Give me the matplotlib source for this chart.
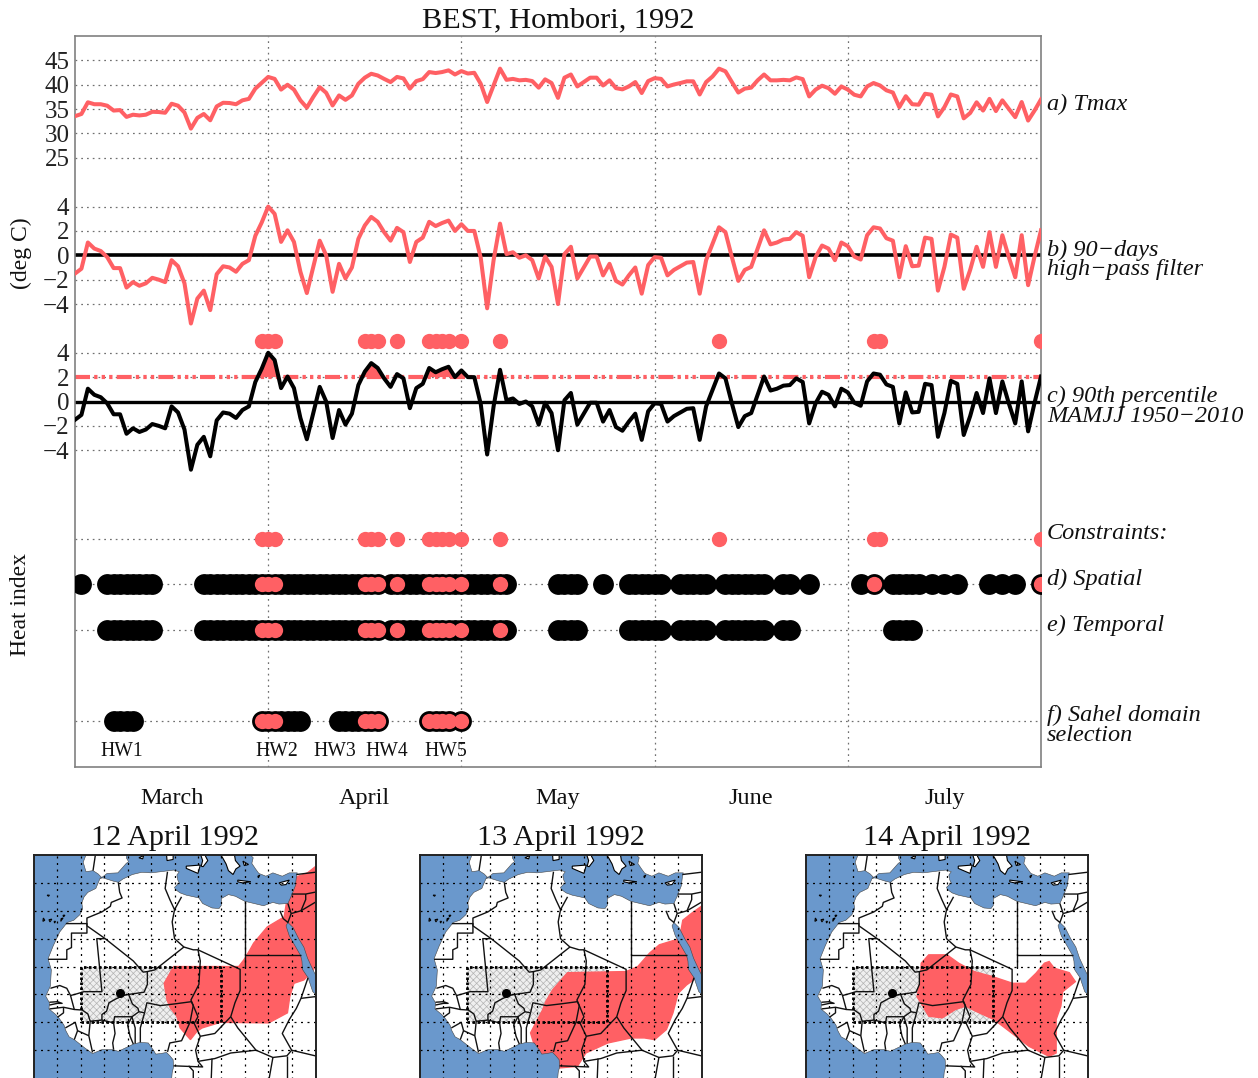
"""Heat wave detection panels and maps for Hombori, 1992."""

import matplotlib

matplotlib.use("Agg")
import matplotlib.pyplot as plt
import numpy as np
from matplotlib.collections import LineCollection
from matplotlib.patches import Polygon, Rectangle

plt.rcParams["font.family"] = ["Liberation Serif", "DejaVu Serif"]
plt.rcParams["hatch.linewidth"] = 0.5

RED = "#ff6064"
SEA = "#6a98cc"

tmax = [
    33.55, 34.0, 36.4, 36.0, 36.0, 35.7, 34.7, 34.8, 33.4, 33.85,
    33.7, 33.85, 34.45, 34.4, 34.25, 36.1, 35.7, 34.3, 31.0, 33.2,
    34.0, 32.7, 35.55, 36.3, 36.25, 36.0, 36.8, 37.1, 39.2, 40.4,
    41.6, 41.2, 39.0, 40.0, 39.0, 36.8, 35.3, 37.5, 39.5, 38.35,
    35.75, 37.8, 36.9, 37.8, 40.2, 41.45, 42.25, 41.9, 41.2, 40.55,
    41.6, 41.3, 39.2, 40.75, 41.15, 42.6, 42.4, 42.6, 42.95, 42.1,
    42.8, 42.3, 42.45, 40.2, 36.45, 39.85, 43.3, 41.0, 41.2, 40.9,
    41.0, 40.75, 39.4, 41.1, 40.35, 37.3, 41.45, 42.1, 39.65, 40.55,
    41.45, 41.45, 39.85, 40.9, 39.3, 39.05, 39.65, 40.55, 38.3, 40.75,
    41.35, 41.2, 39.65, 40.05, 40.35, 40.7, 40.7, 38.0, 40.55, 41.7,
    43.3, 42.75, 40.55, 38.4, 39.2, 39.4, 40.9, 42.1, 40.9, 40.9,
    41.0, 40.9, 41.5, 41.15, 37.6, 39.0, 39.8, 39.3, 38.15, 39.65,
    39.0, 37.95, 37.6, 39.65, 40.35, 39.85, 38.85, 38.4, 35.4, 37.65,
    36.0, 35.9, 38.15, 37.95, 33.5, 35.4, 38.0, 37.6, 33.1, 34.2,
    36.4, 34.7, 37.1, 34.6, 36.8, 35.05, 33.35, 36.45, 32.65, 34.7, 37.0,
]
anomaly = [
    -1.5, -1.1, 1.05, 0.55, 0.35, -0.15, -1.05, -1.05, -2.65, -2.2,
    -2.5, -2.3, -1.85, -2.0, -2.2, -0.4, -0.9, -2.3, -5.6, -3.55,
    -2.9, -4.5, -1.55, -0.9, -1.0, -1.35, -0.7, -0.4, 1.6, 2.7,
    4.0, 3.4, 1.1, 2.05, 1.1, -1.35, -3.1, -0.95, 1.2, 0.0,
    -3.0, -0.7, -1.9, -1.0, 1.35, 2.45, 3.15, 2.75, 1.9, 1.2,
    2.25, 1.9, -0.55, 1.1, 1.45, 2.75, 2.4, 2.65, 2.85, 2.0,
    2.55, 2.0, 2.0, -0.2, -4.35, -0.4, 2.6, 0.1, 0.25, -0.2,
    0.0, -0.4, -1.9, -0.1, -0.95, -4.0, 0.1, 0.7, -1.9, -1.0,
    -0.1, -0.1, -1.65, -0.7, -2.1, -2.4, -1.65, -1.0, -3.15, -0.8,
    -0.15, -0.2, -1.65, -1.2, -0.9, -0.6, -0.55, -3.15, -0.4, 0.95,
    2.3, 1.9, -0.15, -2.1, -1.2, -0.95, 0.55, 2.05, 0.9, 1.05,
    1.3, 1.35, 1.9, 1.6, -1.8, -0.15, 0.8, 0.55, -0.4, 1.05,
    0.75, -0.1, -0.35, 1.65, 2.3, 2.2, 1.4, 1.2, -1.8, 0.75,
    -0.9, -0.85, 1.45, 1.35, -2.9, -0.95, 1.7, 1.45, -2.75, -1.2,
    0.7, -0.95, 1.9, -0.95, 1.65, -0.15, -1.8, 1.65, -2.45, -0.1, 2.05,
]
threshold = 2.0

hot_days = [29, 30, 31, 45, 46, 47, 50, 55, 56, 57, 58, 60, 66, 100, 124, 125, 150]
spatial_days = [
    1, 5, 6, 7, 8, 9, 10, 11, 12,
    20, 21, 22, 23, 24, 25, 26, 27, 28, 29, 30, 31, 32, 33, 34, 35, 36, 37, 38, 39,
    40, 41, 42, 43, 44, 45, 46, 47, 49, 50, 51, 52, 53, 54, 55, 56, 57, 58, 59, 60,
    61, 62, 63, 64, 65, 66, 67,
    75, 76, 77, 78, 82, 86, 87, 88, 89, 90, 91,
    94, 95, 96, 97, 98, 101, 102, 103, 104, 105, 106, 107, 110, 111, 114,
    122, 124, 127, 128, 129, 130, 131, 133, 135, 137, 142, 144, 146, 150,
]
spatial_hot = [29, 30, 31, 45, 46, 47, 50, 55, 56, 57, 58, 60, 66, 124, 150]
temporal_days = [
    5, 6, 7, 8, 9, 10, 11, 12,
    20, 21, 22, 23, 24, 25, 26, 27, 28, 29, 30, 31, 32, 33, 34, 35, 36, 37, 38, 39,
    40, 41, 42, 43, 44, 45, 46, 47, 49, 50, 51, 52, 53, 54, 55, 56, 57, 58, 59, 60,
    61, 62, 63, 64, 65, 66, 67,
    75, 76, 77, 78, 86, 87, 88, 89, 90, 91,
    94, 95, 96, 97, 98, 101, 102, 103, 104, 105, 106, 107, 110, 111,
    127, 128, 129, 130,
]
temporal_hot = [29, 30, 31, 45, 46, 47, 50, 55, 56, 57, 58, 60, 66]
sahel_days = [6, 7, 8, 9, 29, 30, 31, 32, 33, 34, 35, 41, 42, 43, 44, 45, 46, 47, 55, 56, 57, 58, 60]
sahel_hot = [29, 30, 31, 45, 46, 47, 55, 56, 57, 58, 60]

hw_names = ["HW1", "HW2", "HW3", "HW4", "HW5"]
hw_days = [7.3, 31.4, 40.4, 48.4, 57.5]

month_names = ["March", "April", "May", "June", "July"]
month_edges = [30, 60, 90, 120]
month_middles = [15, 45, 75, 105, 135]

tmax_ticks = [25, 30, 35, 40, 45]
anomaly_ticks = [-4, -2, 0, 2, 4]

map_titles = ["12 April 1992", "13 April 1992", "14 April 1992"]
hombori = (-1.6, 15.3)
sahel_box = (-10, 10, 30, 10)

red_lon_12 = [40.5, 38.4, 35.1, 34.1, 33.4, 29.8, 26.9, 25.9, 24.8, 23.7, 9.8, 7.8, 8.4, 9.1, 10.5, 11.2,
              13.4, 14.8, 15.9, 19.8, 30.1, 34.1, 34.6, 35.5, 37.6, 39.4, 40.5]
red_lat_12 = [38.2, 36.8, 35.8, 32.5, 28.9, 27.1, 24.2, 22.7, 21.2, 20.0, 20.0, 17.0, 14.0, 12.6, 11.1, 9.0,
              6.9, 8.4, 9.0, 10.0, 9.9, 11.7, 14.6, 17.0, 17.6, 19.1, 20.6]
red_lon_13 = [40.4, 37.9, 36.1, 35.4, 31.1, 29.0, 26.5, 24.0, 11.5, 8.3, 6.9, 6.1, 4.7, 3.6, 4.7, 9.4, 13.6,
              15.4, 20.1, 25.1, 27.9, 30.1, 32.6, 34.0, 35.1, 36.9, 39.4, 40.4]
red_lat_13 = [31.0, 29.5, 28.3, 25.0, 23.9, 22.4, 20.0, 19.1, 18.9, 15.8, 13.8, 12.1, 9.9, 8.1, 5.1, 1.8, 2.1,
              4.5, 6.3, 7.2, 7.2, 6.9, 8.7, 11.7, 15.2, 16.7, 18.2, 20.0]
red_lon_14 = [6.2, 10.1, 12.6, 15.9, 19.8, 24.1, 26.9, 29.1, 30.9, 31.9, 33.0, 36.2, 37.5, 34.8, 34.4, 33.4,
              33.4, 31.9, 27.6, 24.8, 22.0, 20.1, 16.2, 14.1, 11.9, 9.1, 6.2, 4.8, 3.7, 4.4, 4.6]
red_lat_14 = [22.1, 22.1, 20.6, 19.1, 18.2, 17.0, 17.0, 18.8, 20.6, 20.9, 19.7, 18.9, 17.3, 15.5, 12.9, 10.5,
              4.5, 3.9, 5.7, 7.5, 9.3, 10.5, 12.0, 12.9, 12.3, 10.8, 11.1, 13.1, 14.6, 17.6, 20.6]

atlantic = [(-8.9, 41), (-8.9, 40), (-9.5, 38.7), (-8.9, 37), (-7.4, 37.2), (-6.3, 36.6), (-5.6, 36), (-5.9, 35.8),
            (-6.8, 34), (-8.5, 33.3), (-9.3, 32.5), (-9.8, 31.4), (-9.6, 30.4), (-10.2, 29.3), (-11.5, 28.3),
            (-12.9, 27.9), (-14.5, 26.2), (-15.9, 23.7), (-17, 21.4), (-16.3, 19.4), (-16.5, 16.5), (-17.5, 14.7),
            (-16.7, 13.5), (-16.8, 12.4), (-15.5, 11.5), (-14.7, 10.8), (-13.6, 9.5), (-13.2, 8.5), (-12.5, 7.4),
            (-11.4, 6.9), (-9.3, 5.5), (-7.5, 4.4), (-5.5, 5.1), (-3.3, 5.1), (-2, 4.8), (0.5, 5.8), (1.2, 6.1),
            (2.7, 6.4), (4.4, 6.3), (5.5, 5), (6, 4.3), (7, 4.4), (8.3, 4.6), (9, 4), (9.7, 3.3), (9.8, 2),
            (9.5, 1), (9.3, -1), (-21, -1), (-21, 41)]
mediterranean = [(-5.6, 36), (-5.3, 36.1), (-4.4, 36.7), (-2.1, 36.8), (-0.3, 38.5), (0.2, 38.8), (-0.3, 39.5),
                 (0, 41), (27, 41), (26.2, 40), (26.8, 39.5), (26.5, 38.5), (27.3, 37.5), (28, 36.7), (29.5, 36.2),
                 (31, 36.8), (33, 36.2), (34.5, 36.8), (36.2, 36.8), (36, 36), (35.8, 34.5), (35, 32.8), (34.2, 31.3),
                 (32.3, 31.2), (31, 31.5), (29, 30.9), (27, 31.3), (25, 31.7), (23, 32.6), (21.5, 32.9), (20, 32.2),
                 (20, 31), (19.5, 30.4), (18, 30.5), (16, 31.3), (15.2, 32.3), (12.5, 32.8), (11.2, 33.2), (10.2, 33.8),
                 (10, 34.2), (11, 35), (10.7, 35.5), (10.5, 36.4), (11, 37), (9.8, 37.3), (7, 37), (5, 36.8), (3, 36.9),
                 (1, 36.5), (-1, 35.7), (-2, 35.1), (-3, 35.3), (-5.3, 35.9), (-5.9, 35.8)]
red_sea = [(34.2, 27.9), (35.3, 27), (36.5, 25), (37.6, 23.5), (38.4, 21.5), (39.5, 19.5), (41, 17), (43.3, 12.7),
           (42, 13.5), (39.5, 15.5), (38.5, 18), (37.3, 19.5), (37.2, 21), (36.9, 22), (35.6, 23.9), (34.5, 25.5),
           (33.8, 27.3)]
islands = [
    [(11, 41), (12.5, 41.4), (13.7, 41.2), (14.8, 40.7), (15.6, 40), (16, 39), (15.7, 38), (16.1, 37.9), (17.1, 39),
     (16.6, 39.8), (17, 40.5), (18.5, 40.1), (18, 41), (16, 41.9), (15, 42.5), (11, 42.5)],
    [(19.4, 41.5), (19.4, 40.4), (20.2, 39.6), (21, 38.4), (21.5, 37.2), (22.5, 36.5), (23.1, 37.5), (24, 38), (23, 39),
     (22.7, 40.5), (24, 40.8), (26.2, 40.9), (26.2, 41.5)],
    [(12.5, 38), (15.5, 38.2), (15, 36.7), (12.5, 37.6)],
    [(8.4, 39), (9.7, 39.2), (9.7, 41), (8.2, 41)],
    [(23.5, 35.5), (26.3, 35.2), (24.5, 35), (23.5, 35.2)],
    [(32.3, 35), (34.5, 35.5), (33.8, 34.7), (32.8, 34.6)],
    [(2.4, 39.5), (3.4, 39.9), (3.2, 39.3)],
    [(24.6, 38.9), (25.8, 38.3), (24.9, 38.1)],
    [(27.8, 36.2), (28.2, 36.4), (27.9, 35.9)],
    [(-18, 28.7), (-17.7, 28.3), (-18.1, 28.1)],
    [(-16.8, 28.4), (-16.2, 28.5), (-16.6, 28)],
    [(-15.7, 28.1), (-15.4, 28.1), (-15.6, 27.8)],
    [(-14.2, 28.6), (-13.8, 28.7), (-14.3, 28.1)],
    [(-13.8, 29.2), (-13.4, 29.2), (-13.7, 28.9)],
    [(-17.2, 32.8), (-16.7, 32.8), (-16.9, 32.6)],
]
borders = [
    [(-2, 35.1), (-1.7, 33.3), (-1.2, 32.3), (-3.5, 31.5), (-3.7, 30.8), (-5.5, 29.8), (-8.7, 28.7), (-8.7, 27.3)],
    [(-13.2, 27.7), (-8.7, 27.7), (-8.7, 26), (-12, 26), (-12, 23.4), (-13, 23), (-13, 21.3), (-17, 21.3)],
    [(-8.7, 27.3), (-4.8, 25), (-6.6, 25), (-5.5, 15.5), (-9.3, 15.5), (-10.9, 15.1), (-12.2, 14.8), (-13, 16.1),
     (-14.5, 16.6), (-16.5, 16.1)],
    [(-4.8, 25), (1.2, 21), (3.3, 19), (4.2, 19.1), (5.8, 19.4), (12, 23.5), (14, 23), (15, 23), (15.5, 21), (15.2, 16.8),
     (13.5, 14), (14, 13), (15, 11), (14.2, 9.8), (15.5, 7.5), (14.5, 5), (15, 3), (16, 2), (9.8, 2.2)],
    [(15, 23), (24, 19.5), (24, 15.7), (22.9, 13.5), (22, 11), (23.5, 9), (27.4, 5), (31, 3.7), (34, 4), (35, 5), (41, 3.8)],
    [(25, 31.7), (25, 20)],
    [(25, 22), (36.9, 22)],
    [(15.5, 7.5), (18.6, 8), (22, 11)],
    [(8.5, 4.7), (9, 6.3), (11.5, 6.7), (13.3, 10), (14, 13)],
    [(3.6, 11.7), (4.1, 13.5), (7, 13), (10, 13.3), (13.6, 13.7), (14, 13)],
    [(2.7, 6.4), (2.7, 9), (3.6, 11.7)],
    [(1.6, 6.2), (1.6, 9), (0.9, 11)],
    [(-5.5, 10.4), (-3, 9.9), (-2.8, 11), (0, 11), (0.9, 11), (2.4, 11.9), (3.6, 11.7)],
    [(-5.5, 10.4), (-5.5, 11.4), (-4.5, 12), (-4, 13.5), (-2.5, 14.2), (-1, 14.8), (0.2, 15), (1, 13.3), (2.2, 12.5), (2.4, 11.9)],
    [(0.2, 15), (3.5, 15.4), (4.2, 16.8), (4.2, 19.1)],
    [(0.9, 11), (0, 9.5), (0.5, 7.5), (1.2, 6.1)],
    [(-3, 9.9), (-2.7, 8), (-3.2, 6.3), (-3, 5.1)],
    [(-5.5, 10.4), (-8, 10.2), (-8.3, 7.6), (-7.5, 4.6)],
    [(-8.3, 7.6), (-10.7, 8.5), (-11.4, 6.9)],
    [(-10.7, 8.5), (-11.2, 10), (-13.3, 9)],
    [(-8, 10.2), (-8.5, 11.5), (-9.7, 12.2), (-11.4, 12.3), (-12.2, 14.8)],
    [(-11.4, 12.3), (-13.7, 12.7), (-16.7, 12.4)],
    [(-13.7, 12.7), (-13.7, 11.7), (-15, 10.9)],
    [(-16.7, 13.1), (-15, 13.4), (-14, 13.4), (-15, 13.7), (-16.7, 13.6)],
    [(38.5, 18), (37, 14.3), (36, 12.5), (34.5, 10.5), (33, 8), (35, 5)],
    [(37, 14.3), (40, 14.6), (41.5, 13)],
    [(15, 3), (18.6, 3.5), (22, 4.5), (27.4, 5)],
    [(17.8, -1), (18, 3.5)],
    [(13, 2.2), (14, 1.3), (14, -1)],
    [(30, -1), (31, 3.7)],
    [(34, -1), (34, 4)],
    [(8.5, 37), (8, 34), (9, 32), (10, 30.2), (11.5, 32.5)],
    [(10, 30.2), (9.5, 28), (10, 25), (12, 23.5)],
    [(-6.9, 41), (-6.9, 40), (-7.4, 37.2)],
    [(36, 36.5), (41, 37)],
    [(35, 33), (38, 33), (41, 33.5)],
    [(34.9, 29.5), (37, 30), (38, 32), (38, 33)],
    [(37, 30), (41, 32)],
    [(32.5, 30), (33.2, 28.6), (34.2, 27.9), (34.9, 29.5), (34.2, 31.3)],
]


def anomaly_row(values, zero):
    return zero + np.asarray(values, dtype=float)


def tmax_row(values):
    return 50.0 + (np.asarray(values, dtype=float) - 25.0) * 0.4


def add_map(fig, left, title, red_lon, red_lat):
    w, h = 1258.0, 1078.0
    ax = fig.add_axes([left / w, -4 / h, 282 / w, 227 / h])
    ax.set_xlim(-20, 40.2)
    ax.set_ylim(-0.7, 40)
    ax.set_facecolor("white")
    ax.add_patch(Rectangle(sahel_box[:2], sahel_box[2], sahel_box[3], facecolor="#efefef", edgecolor="#b4b4b4",
                           hatch="xxxxx", linewidth=0, zorder=1))
    ax.add_patch(Polygon(np.column_stack([red_lon, red_lat]), facecolor=RED, edgecolor=RED, linewidth=1.0, zorder=2))
    for sea in (atlantic, mediterranean, red_sea):
        ax.add_patch(Polygon(sea, facecolor=SEA, edgecolor="#444444", linewidth=0.4, zorder=3))
    for land in islands:
        ax.add_patch(Polygon(land, facecolor="white", edgecolor="black", linewidth=0.8, zorder=4))
    ax.add_collection(LineCollection(borders, colors="#111111", linewidths=1.0, zorder=5))
    for lon in [-15, -10, -5, 0, 5, 10, 15, 20, 25, 30, 35]:
        ax.axvline(lon, color="black", lw=0.9, ls=(0, (1.6, 3.6)), zorder=6)
    for lat in [5, 10, 15, 20, 25, 30, 35]:
        ax.axhline(lat, color="black", lw=0.9, ls=(0, (1.6, 3.6)), zorder=6)
    x0, y0, dx, dy = sahel_box
    ax.plot([x0, x0 + dx, x0 + dx, x0, x0], [y0, y0, y0 + dy, y0 + dy, y0], color="black", lw=2.0,
            ls=(0, (0.9, 0.9)), zorder=7)
    ax.plot(*hombori, "o", color="black", ms=5.5, zorder=8)
    ax.set_xticks([])
    ax.set_yticks([])
    for spine in ax.spines.values():
        spine.set_linewidth(1.4)
        spine.set_color("#222222")
        spine.set_zorder(10)
    fig.text((left + 141) / w, 1 - 838 / h, title, ha="center", va="center", fontsize=21.7, color="#111111")


fig = plt.figure(figsize=(12.58, 10.78), dpi=100)
ax = fig.add_axes([75 / 1258, 1 - 767 / 1078, 966 / 1258, 731 / 1078])
ax.set_xlim(0, 150)
ax.set_ylim(0, 60)

days = np.arange(len(anomaly))
B_ZERO = 42
C_ZERO = 30
C_DOTS = 35
ROW_CONSTRAINT = 18.75
ROW_SPATIAL = 15.0
ROW_TEMPORAL = 11.25
ROW_SAHEL = 3.75

y_ticks = list(tmax_row(tmax_ticks)) + list(anomaly_row(anomaly_ticks, B_ZERO)) + list(anomaly_row(anomaly_ticks, C_ZERO))
y_labels = [str(t) for t in tmax_ticks] + [str(t).replace("-", "\u2212") for t in anomaly_ticks] * 2
y_ticks += [ROW_CONSTRAINT, ROW_SPATIAL, ROW_TEMPORAL, ROW_SAHEL]
y_labels += ["", "", "", ""]
ax.set_yticks(y_ticks)
ax.set_yticklabels(y_labels, fontsize=18, color="#222222")
ax.set_xticks(month_edges)
ax.set_xticklabels([""] * len(month_edges))
ax.set_xticks(month_middles, minor=True)
ax.set_xticklabels(month_names, minor=True, fontsize=17.5, color="#111111")
ax.tick_params(axis="both", which="both", length=0)
ax.tick_params(axis="y", pad=4)
ax.tick_params(axis="x", which="minor", pad=15)
ax.grid(True, which="major", color="#707070", linewidth=0.9, linestyle=(0, (1.4, 3.2)), zorder=0)
ax.set_axisbelow(True)
for spine in ax.spines.values():
    spine.set_color("#808080")
    spine.set_linewidth(1.2)

ax.axhline(B_ZERO, color="black", lw=2.6, zorder=2)
ax.axhline(C_ZERO, color="black", lw=2.4, zorder=2)
ax.plot(days, tmax_row(tmax), color=RED, lw=2.9, zorder=3)
ax.plot(days, anomaly_row(anomaly, B_ZERO), color=RED, lw=2.9, zorder=3)

c_line = anomaly_row(anomaly, C_ZERO)
c_threshold = C_ZERO + threshold
ax.fill_between(days, c_threshold, c_line, where=c_line > c_threshold, interpolate=True, color=RED, lw=0, zorder=2)
ax.axhline(c_threshold, color=RED, lw=3.0, ls=(0, (3.6, 1.0, 0.8, 1.0, 0.8, 1.0, 0.8, 1.0)), zorder=2)
ax.plot(days, c_line, color="black", lw=2.9, zorder=4)

ax.plot(hot_days, [C_DOTS] * len(hot_days), "o", color=RED, ms=11, mew=0, zorder=5)
ax.plot(hot_days, [ROW_CONSTRAINT] * len(hot_days), "o", color=RED, ms=11, mew=0, zorder=5)
rows = [(ROW_SPATIAL, spatial_days, spatial_hot), (ROW_TEMPORAL, temporal_days, temporal_hot), (ROW_SAHEL, sahel_days, sahel_hot)]
for row, black_days, red_days in rows:
    ax.plot(black_days, [row] * len(black_days), "o", color="black", ms=15, mew=0, zorder=5)
    ax.plot(red_days, [row] * len(red_days), "o", color=RED, ms=11, mew=0, zorder=6)

for name, day in zip(hw_names, hw_days):
    ax.text(day, 1.25, name, ha="center", va="center", fontsize=14.2, color="#111111", zorder=7)

side_labels = [
    ("a) Tmax", 54.4),
    ("b) 90\u2212days\nhigh\u2212pass filter", 41.6),
    ("c) 90th percentile\nMAMJJ 1950\u22122010", 29.6),
    ("Constraints:", 19.2),
    ("d) Spatial", 15.4),
    ("e) Temporal", 11.6),
    ("f) Sahel domain\nselection", 3.4),
]
for label, y in side_labels:
    ax.text(150.9, y, label, ha="left", va="center", fontsize=17.5, style="italic", color="#111111",
            linespacing=0.9, clip_on=False)

fig.text(558 / 1258, 1 - 20 / 1078, "BEST, Hombori, 1992", ha="center", va="center", fontsize=21.9, color="#111111")
fig.text(21 / 1258, 1 - 253 / 1078, "(deg C)", rotation=90, ha="center", va="center", fontsize=17, color="#111111")
fig.text(21 / 1258, 1 - 604 / 1078, "Heat index", rotation=90, ha="center", va="center", fontsize=17, color="#111111")

add_map(fig, 34, map_titles[0], red_lon_12, red_lat_12)
add_map(fig, 420, map_titles[1], red_lon_13, red_lat_13)
add_map(fig, 806, map_titles[2], red_lon_14, red_lat_14)

fig.savefig("out.png", dpi=100)
plt.close(fig)
